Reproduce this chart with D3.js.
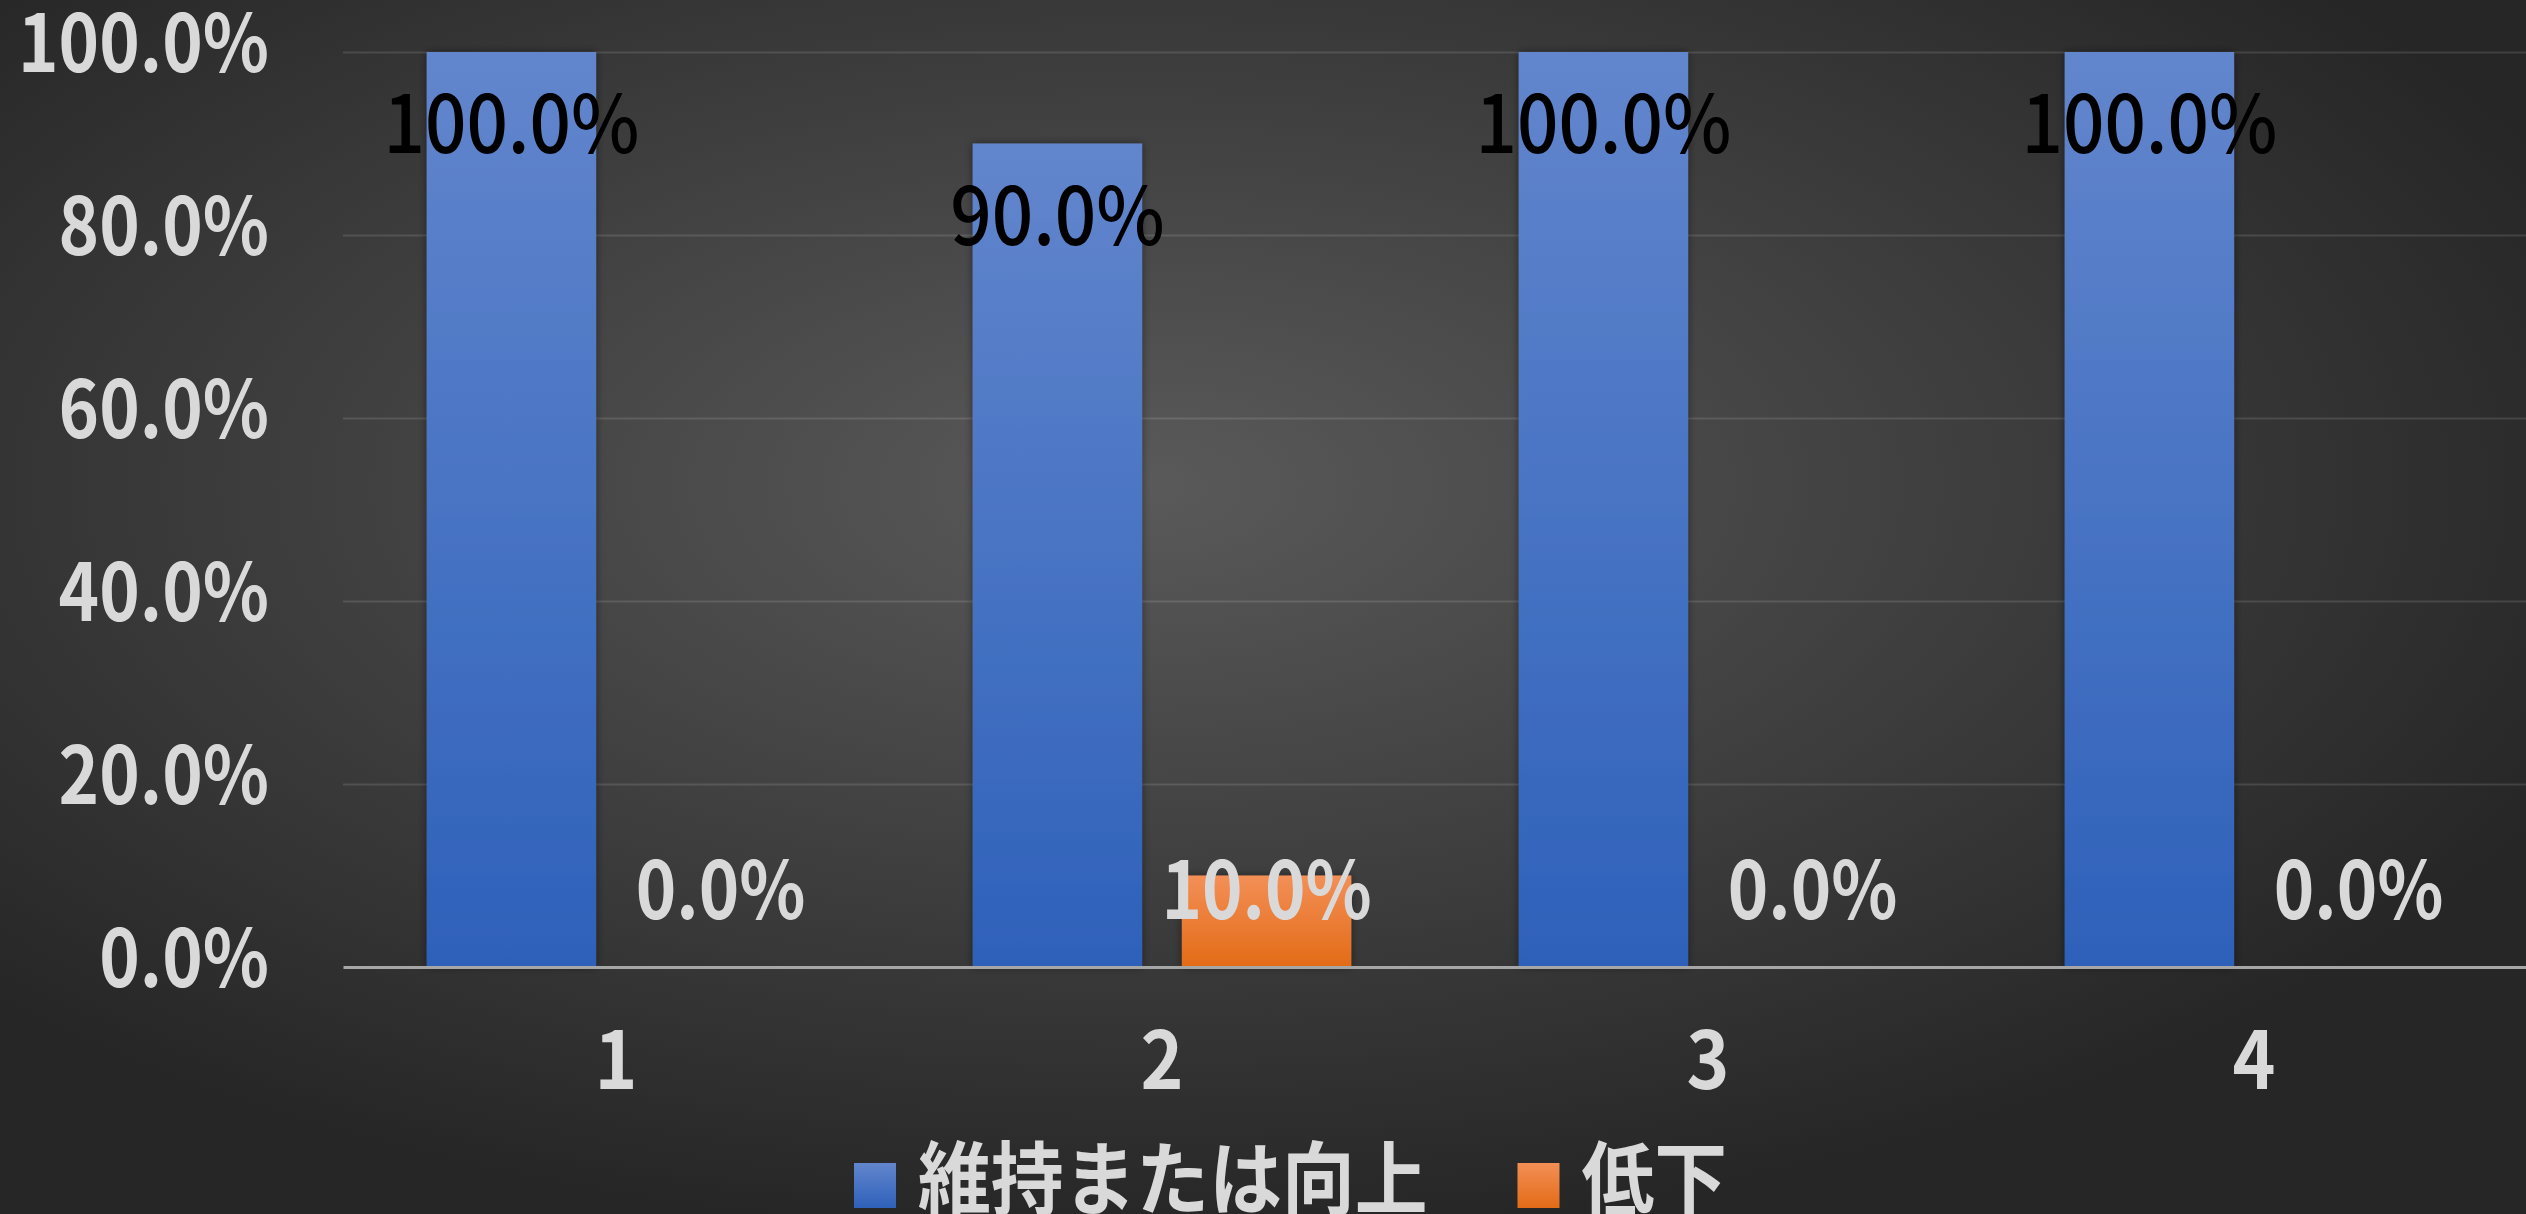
<!DOCTYPE html>
<html lang="ja">
<head>
<meta charset="utf-8">
<script src="https://cdn.jsdelivr.net/npm/d3@7"></script>
<style>
  html, body { margin: 0; padding: 0; background: #262626; overflow: hidden; }
  svg { display: block; }
  text { font-family: "Noto Sans CJK JP", "Noto Sans", sans-serif; }
</style>
</head>
<body>
<svg id="chart" width="2526" height="1214"></svg>

<script>
"use strict";

// data
const categories = ["1", "2", "3", "4"];
const seriesNames = ["維持または向上", "低下"];
const maintainValues = [1.0, 0.9, 1.0, 1.0];
const declineValues = [0.0, 0.1, 0.0, 0.0];
const yTicks = [0, 0.2, 0.4, 0.6, 0.8, 1.0];

const W = 2526, H = 1214;
const plotLeft = 343, plotRight = 2527, plotTop = 52, plotBase = 967;
const squeeze = 0.91;      // glyphs in the original are a bit narrow
const squeezeWhite = 0.86; // white labels are heavier, squeeze a bit more
const fontSize = 80;

const svg = d3.select("#chart");
const defs = svg.append("defs");

// background
const bg = defs.append("radialGradient").attr("id", "bg")
  .attr("cx", 0.45).attr("cy", 0.4).attr("r", 0.62);
bg.append("stop").attr("offset", 0).attr("stop-color", "#5a5a5a");
bg.append("stop").attr("offset", 1).attr("stop-color", "#262626");
svg.append("rect").attr("width", W).attr("height", H).attr("fill", "url(#bg)");

function barGrad(id, c0, c1) {
  const g = defs.append("linearGradient").attr("id", id)
    .attr("x1", 0).attr("y1", 0).attr("x2", 0).attr("y2", 1);
  g.append("stop").attr("offset", 0).attr("stop-color", c0);
  g.append("stop").attr("offset", 1).attr("stop-color", c1);
}
barGrad("blue", "#6286cd", "#2e61ba");
barGrad("orange", "#f38f56", "#e36b17");
const fills = ["url(#blue)", "url(#orange)"];

defs.append("filter").attr("id", "shadow")
  .attr("x", "-20%").attr("y", "-20%").attr("width", "140%").attr("height", "140%")
  .append("feDropShadow").attr("dx", 0).attr("dy", 0)
  .attr("stdDeviation", 4).attr("flood-color", "#000").attr("flood-opacity", 0.45);

// scales
const x0 = d3.scaleBand().domain(categories).range([plotLeft, plotRight]);
const x1 = d3.scaleBand().domain(seriesNames).range([0, x0.bandwidth()])
  .paddingInner(0.19).paddingOuter(0.4);
const y = d3.scaleLinear().domain([0, 1]).range([plotBase, plotTop]);

// gridlines
const grid = svg.append("g").attr("transform", `translate(${plotLeft},0)`)
  .call(d3.axisLeft(y).tickValues(yTicks.slice(1)).tickSize(-(plotRight - plotLeft)).tickFormat(""));
grid.select(".domain").remove();
grid.selectAll("line").attr("stroke", "#ffffff").attr("stroke-opacity", 0.12).attr("stroke-width", 2);

// y axis labels
const yAxis = svg.append("g").attr("transform", `translate(${plotLeft},0)`)
  .call(d3.axisLeft(y).tickValues(yTicks).tickFormat(d3.format(".1%")).tickSize(0));
yAxis.select(".domain").remove();
yAxis.selectAll("text")
  .attr("x", 0).attr("y", 0).attr("dy", null)
  .attr("dominant-baseline", "central")
  .attr("transform", `translate(-74,-16) scale(${squeezeWhite},1)`)
  .attr("fill", "#d9d9d9").attr("font-size", fontSize).attr("font-weight", 600)
  .attr("font-family", null);

// bars
const rows = categories.map((c, i) => ({ cat: c, vals: [maintainValues[i], declineValues[i]] }));
const groups = svg.append("g").selectAll("g").data(rows).join("g")
  .attr("transform", d => `translate(${x0(d.cat)},0)`);

groups.selectAll("rect")
  .data(d => d.vals.map((v, k) => ({ key: seriesNames[k], v, k })))
  .join("rect")
  .attr("x", d => x1(d.key))
  .attr("y", d => y(d.v))
  .attr("width", x1.bandwidth())
  .attr("height", d => plotBase - y(d.v))
  .attr("fill", d => fills[d.k])
  .attr("filter", d => d.v > 0 ? "url(#shadow)" : null);

// x axis line and labels
const xAxis = svg.append("g").attr("transform", `translate(0,${plotBase})`)
  .call(d3.axisBottom(x0).tickSize(0));
xAxis.select(".domain").attr("stroke", "#a6a6a6").attr("stroke-width", 3);
xAxis.selectAll("text")
  .attr("x", 0).attr("y", 0).attr("dy", null)
  .attr("dominant-baseline", "central")
  .attr("transform", `translate(0,87) scale(${squeeze},1)`)
  .attr("fill", "#d9d9d9").attr("font-size", fontSize).attr("font-weight", 600)
  .attr("font-family", null);

// data labels
const fmt = d3.format(".1%");
groups.selectAll("text.lbl")
  .data(d => d.vals.map((v, k) => ({ key: seriesNames[k], v, k })))
  .join("text").attr("class", "lbl")
  .attr("text-anchor", "middle")
  .attr("dominant-baseline", "central")
  .attr("transform", d => {
    const cx = x1(d.key) + x1.bandwidth() / 2;
    const cy = d.k === 0 ? y(d.v) + 66 : y(0) - 83;
    const sx = d.k === 0 ? squeeze : squeezeWhite;
    return `translate(${cx},${cy}) scale(${sx},1)`;
  })
  .attr("font-size", fontSize)
  .attr("font-weight", d => d.k === 0 ? 500 : 600)
  .attr("fill", d => d.k === 0 ? "#000000" : "#d9d9d9")
  .text(d => fmt(d.v));

// legend
const legend = svg.append("g").attr("transform", "translate(854,1173)");
let lx = 0;
seriesNames.forEach((name, k) => {
  legend.append("rect").attr("x", lx).attr("y", -10).attr("width", 42).attr("height", 45)
    .attr("fill", fills[k]);
  const t = legend.append("text")
    .attr("dominant-baseline", "central")
    .attr("transform", `translate(${lx + 64},0) scale(${squeeze},1)`)
    .attr("font-size", fontSize).attr("font-weight", 600).attr("fill", "#d9d9d9")
    .text(name);
  lx += 64 + t.node().getComputedTextLength() * squeeze + 90;
});
</script>
</body>
</html>
